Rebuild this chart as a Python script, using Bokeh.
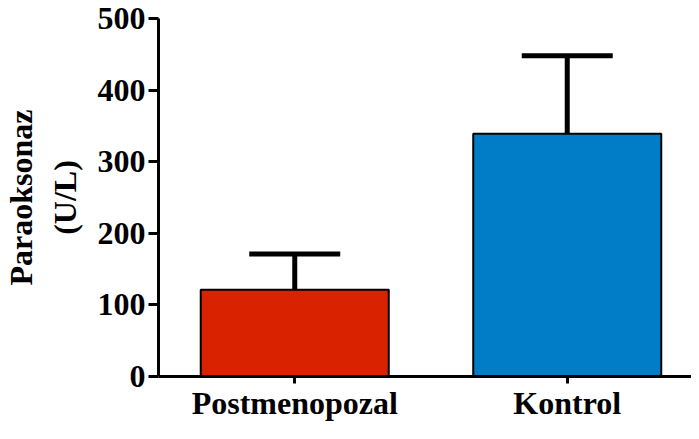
from bokeh.plotting import figure
from bokeh.models import Range1d, ColumnDataSource, Whisker, TeeHead, FixedTicker
from bokeh.embed import file_html
from bokeh.resources import INLINE

categories = ["Postmenopozal", "Kontrol"]
means = [121, 339]
sds = [50, 109]
colors = ["#D92200", "#007DC6"]
y_ticks = [0, 100, 200, 300, 400, 500]

xpos = [i + 0.5 for i in range(len(categories))]
upper = [m + s for m, s in zip(means, sds)]
src = ColumnDataSource(dict(x=xpos, mean=means, upper=upper, color=colors))

FONT = "Liberation Serif"

p = figure(x_range=Range1d(0, 1.956), y_range=Range1d(0, 500),
           width=691, height=423, output_backend="svg", toolbar_location=None,
           min_border_left=155, min_border_top=18, min_border_bottom=30, min_border_right=0)

w = Whisker(source=src, base="x", upper="upper", lower="mean",
            line_width=5, line_color="black",
            upper_head=TeeHead(size=91, line_width=5, line_color="black"),
            lower_head=None, level="underlay")
p.add_layout(w)

p.vbar(x="x", top="mean", bottom=0, width=0.69, source=src,
       fill_color="color", line_color="black", line_width=2)

p.xgrid.visible = False
p.ygrid.visible = False
p.outline_line_color = None
p.background_fill_color = "white"
p.border_fill_color = "white"

for ax in (p.xaxis[0], p.yaxis[0]):
    ax.axis_line_width = 3
    ax.axis_line_color = "black"
    ax.major_tick_line_width = 3
    ax.major_tick_line_color = "black"
    ax.minor_tick_line_color = None
    ax.major_tick_in = 0
    ax.major_label_text_font = FONT
    ax.major_label_text_font_style = "bold"
    ax.major_label_text_color = "black"

p.yaxis.ticker = FixedTicker(ticks=y_ticks)
p.yaxis.major_tick_out = 10
p.yaxis.major_label_text_font_size = "32px"
p.yaxis.major_label_standoff = 3

p.xaxis.ticker = FixedTicker(ticks=xpos)
p.xaxis.major_label_overrides = {x: c for x, c in zip(xpos, categories)}
p.xaxis.major_tick_out = 7
p.xaxis.major_label_text_font_size = "32px"
p.xaxis.major_label_standoff = 1

p.yaxis.axis_label = "Paraoksonaz\n(U/L)"
p.yaxis.axis_label_text_font = FONT
p.yaxis.axis_label_text_font_style = "bold"
p.yaxis.axis_label_text_font_size = "32px"
p.yaxis.axis_label_text_color = "black"
p.yaxis.axis_label_standoff = 12

open("out.html", "w").write(file_html(p, INLINE))
